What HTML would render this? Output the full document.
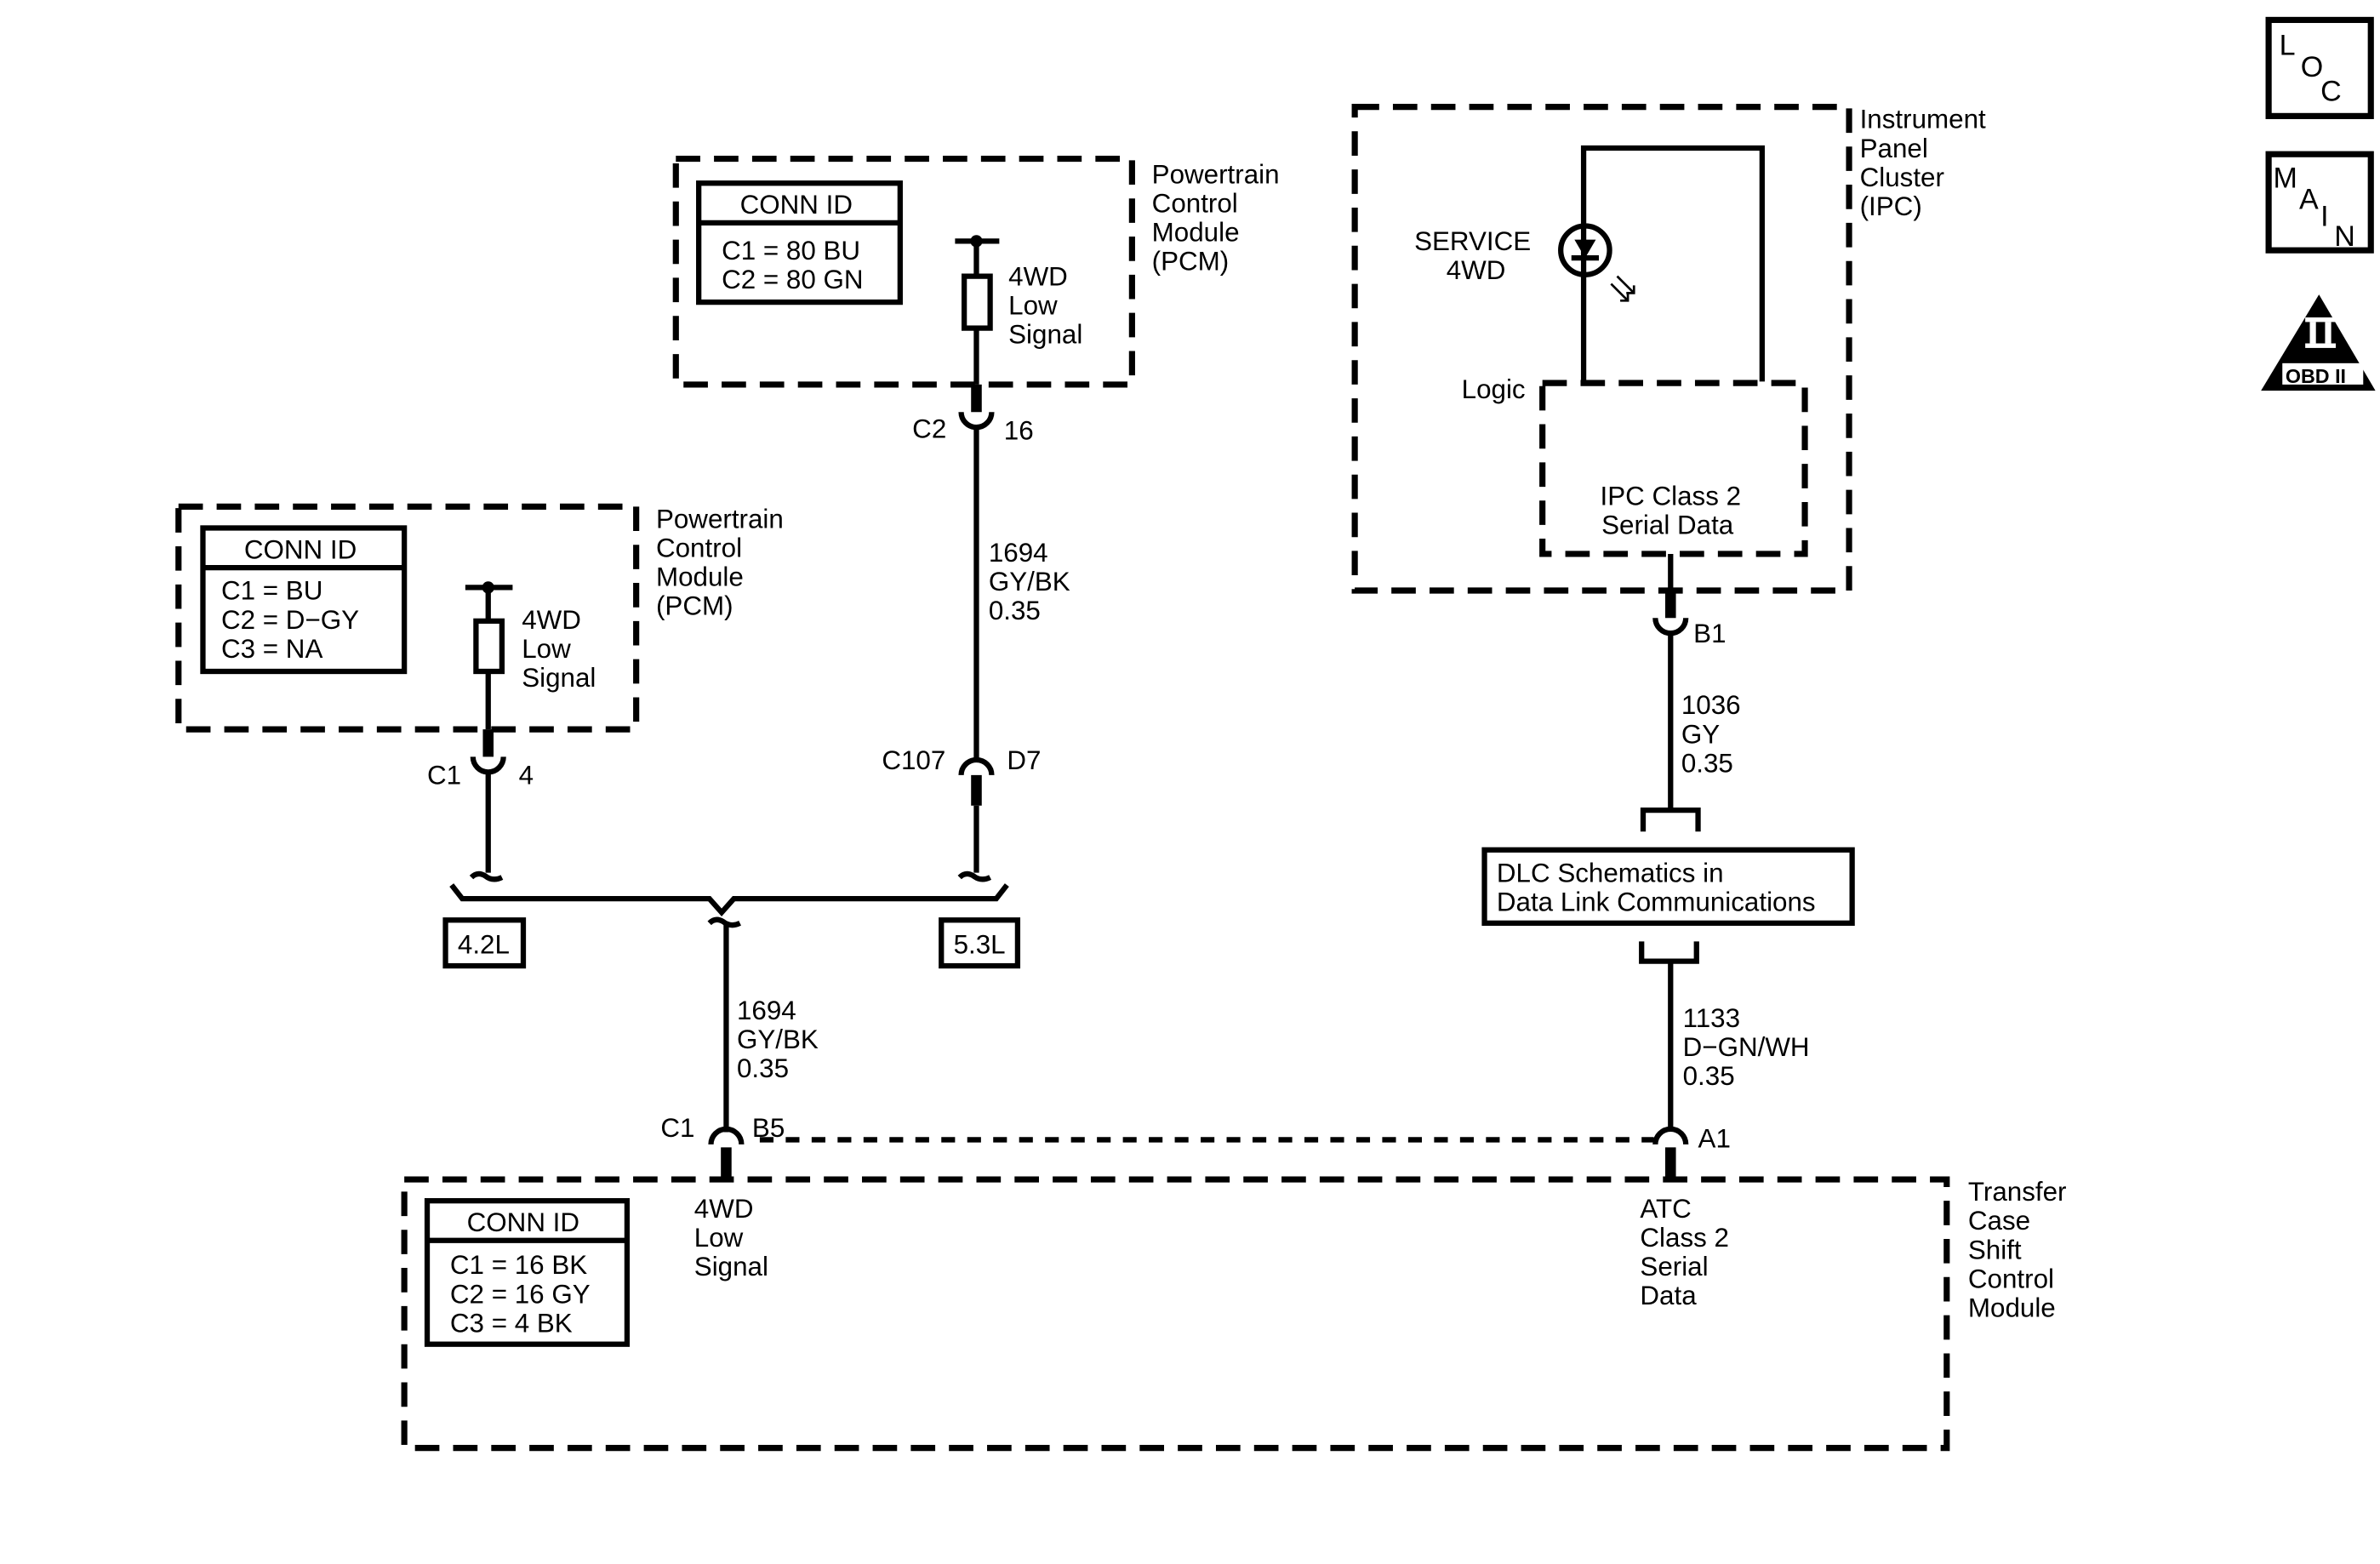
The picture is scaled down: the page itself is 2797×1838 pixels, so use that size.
<!DOCTYPE html>
<html><head><meta charset="utf-8"><style>
html,body{margin:0;padding:0;background:#fff;}
svg{display:block;}
text{font-family:"Liberation Sans",Arial,sans-serif;font-size:17.5px;fill:#000;}
</style></head><body>
<svg width="2797" height="1838" viewBox="0 0 1560 1025" xmlns="http://www.w3.org/2000/svg">
<g fill="none" stroke="#000" stroke-width="3.5">
<g stroke-dasharray="16,9" stroke-width="4">
<rect x="443" y="104" width="299" height="148"/>
<rect x="117" y="332" width="300" height="146"/>
<rect x="265" y="773" width="1011" height="176"/>
<rect x="888" y="70" width="324" height="317"/>
<rect x="1011" y="251" width="172" height="112"/>
</g>
<rect x="458" y="120" width="132" height="78"/><line x1="458" y1="146" x2="590" y2="146"/>
<rect x="133" y="346" width="132" height="94"/><line x1="133" y1="372" x2="265" y2="372"/>
<rect x="280" y="787" width="131" height="94"/><line x1="280" y1="813" x2="411" y2="813"/>
<line x1="626" y1="158" x2="655" y2="158"/>
<line x1="640" y1="158" x2="640" y2="180"/>
<rect x="632" y="181" width="17" height="34"/>
<line x1="640" y1="215" x2="640" y2="252"/>
<line x1="640" y1="252" x2="640" y2="270" stroke-width="7"/>
<path d="M630,270 A10,10 0 0 0 650,270"/>
<line x1="640" y1="280" x2="640" y2="498"/>
<path d="M630,508 A10,10 0 0 1 650,508"/>
<line x1="640" y1="508" x2="640" y2="528" stroke-width="7"/>
<line x1="640" y1="528" x2="640" y2="572"/>
<path d="M629,575 q4,-4 9,-1 q5,4 11,1"/>
<line x1="305" y1="385" x2="336" y2="385"/>
<line x1="320" y1="385" x2="320" y2="406"/>
<rect x="312" y="407" width="17" height="33"/>
<line x1="320" y1="440" x2="320" y2="478"/>
<line x1="320" y1="478" x2="320" y2="496" stroke-width="7"/>
<path d="M310,496 A10,10 0 0 0 330,496"/>
<line x1="320" y1="506" x2="320" y2="572"/>
<path d="M309,575 q4,-4 9,-1 q5,4 11,1"/>
<path d="M296,580 L303,589 L465,589 L473,598 L481,589 L653,589 L660,580"/>
<path d="M465,605 q4,-4 9,-1 q5,4 11,1"/>
<line x1="476" y1="604" x2="476" y2="742"/>
<rect x="292" y="603" width="51" height="30"/>
<rect x="617" y="603" width="50" height="30"/>
<path d="M466,750 A10,10 0 0 1 486,750"/>
<line x1="476" y1="752" x2="476" y2="771" stroke-width="7"/>
<line x1="498" y1="747" x2="1084" y2="747" stroke-dasharray="9,8"/>
<path d="M1038,250 L1038,97 L1155,97 L1155,250"/>
<circle cx="1039" cy="164" r="16"/>
<line x1="1030" y1="169" x2="1048" y2="169"/>
<line x1="1095" y1="363" x2="1095" y2="388"/>
<line x1="1095" y1="388" x2="1095" y2="405" stroke-width="7"/>
<path d="M1085,405 A10,10 0 0 0 1105,405"/>
<line x1="1095" y1="415" x2="1095" y2="531"/>
<path d="M1077,545 L1077,531 L1113,531 L1113,545"/>
<rect x="973" y="557" width="241" height="48"/>
<path d="M1076,617 L1076,630 L1112,630 L1112,617"/>
<line x1="1095" y1="630" x2="1095" y2="740"/>
<path d="M1085,750 A10,10 0 0 1 1105,750"/>
<line x1="1095" y1="752" x2="1095" y2="771" stroke-width="7"/>
<rect x="1487" y="13" width="67" height="63" stroke-width="4"/>
<rect x="1487" y="101" width="67" height="63" stroke-width="4"/>
</g>
<circle cx="640" cy="158" r="4"/>
<circle cx="320" cy="385" r="4"/>
<path d="M1032,157 L1046,157 L1039,169 Z"/>
<g stroke="#000" stroke-width="1.5" fill="none">
<line x1="1056" y1="186" x2="1067" y2="197"/><line x1="1060" y1="181" x2="1071" y2="192"/>
<path d="M1062,197 L1067,197 L1067,192 M1066,192 L1071,192 L1071,187"/>
</g>
<path d="M1520,193 L1557,256 L1482,256 Z"/>
<rect x="1496" y="238" width="53" height="14" fill="#fff"/>
<rect x="1511" y="208" width="20" height="3" fill="#fff"/>
<rect x="1511" y="225" width="20" height="3" fill="#fff"/>
<rect x="1514" y="211" width="4" height="14" fill="#fff"/>
<rect x="1524" y="211" width="4" height="14" fill="#fff"/>
<text x="1498" y="251" style="font-size:13px;font-weight:bold">OBD II</text>
<text x="1494" y="36" style="font-size:19px">L</text><text x="1508" y="50" style="font-size:19px">O</text><text x="1521" y="66" style="font-size:19px">C</text>
<text x="1490" y="123" style="font-size:19px">M</text><text x="1507" y="137" style="font-size:19px">A</text><text x="1521" y="148" style="font-size:19px">I</text><text x="1530" y="161" style="font-size:19px">N</text>
<text x="485" y="140">CONN ID</text>
<text x="473" y="170">C1 = 80 BU</text><text x="473" y="189">C2 = 80 GN</text>
<text x="755" y="120">Powertrain</text><text x="755" y="139">Control</text><text x="755" y="158">Module</text><text x="755" y="177">(PCM)</text>
<text x="661" y="187">4WD</text><text x="661" y="206">Low</text><text x="661" y="225">Signal</text>
<text x="598" y="287">C2</text><text x="658" y="288">16</text>
<text x="648" y="368">1694</text><text x="648" y="387">GY/BK</text><text x="648" y="406">0.35</text>
<text x="578" y="504">C107</text><text x="660" y="504">D7</text>
<text x="160" y="366">CONN ID</text>
<text x="145" y="393">C1 = BU</text><text x="145" y="412">C2 = D−GY</text><text x="145" y="431">C3 = NA</text>
<text x="430" y="346">Powertrain</text><text x="430" y="365">Control</text><text x="430" y="384">Module</text><text x="430" y="403">(PCM)</text>
<text x="342" y="412">4WD</text><text x="342" y="431">Low</text><text x="342" y="450">Signal</text>
<text x="280" y="514">C1</text><text x="340" y="514">4</text>
<text x="300" y="625">4.2L</text><text x="625" y="625">5.3L</text>
<text x="483" y="668">1694</text><text x="483" y="687">GY/BK</text><text x="483" y="706">0.35</text>
<text x="433" y="745">C1</text><text x="493" y="745">B5</text>
<text x="306" y="807">CONN ID</text>
<text x="295" y="835">C1 = 16 BK</text><text x="295" y="854">C2 = 16 GY</text><text x="295" y="873">C3 = 4 BK</text>
<text x="455" y="798">4WD</text><text x="455" y="817">Low</text><text x="455" y="836">Signal</text>
<text x="1075" y="798">ATC</text><text x="1075" y="817">Class 2</text><text x="1075" y="836">Serial</text><text x="1075" y="855">Data</text>
<text x="1290" y="787">Transfer</text><text x="1290" y="806">Case</text><text x="1290" y="825">Shift</text><text x="1290" y="844">Control</text><text x="1290" y="863">Module</text>
<text x="1219" y="84">Instrument</text><text x="1219" y="103">Panel</text><text x="1219" y="122">Cluster</text><text x="1219" y="141">(IPC)</text>
<text x="927" y="164">SERVICE</text><text x="948" y="183">4WD</text>
<text x="958" y="261">Logic</text>
<text x="1095" y="331" text-anchor="middle">IPC Class 2</text><text x="1093" y="350" text-anchor="middle">Serial Data</text>
<text x="1110" y="421">B1</text>
<text x="1102" y="468">1036</text><text x="1102" y="487">GY</text><text x="1102" y="506">0.35</text>
<text x="981" y="578">DLC Schematics in</text><text x="981" y="597">Data Link Communications</text>
<text x="1103" y="673">1133</text><text x="1103" y="692">D−GN/WH</text><text x="1103" y="711">0.35</text>
<text x="1113" y="752">A1</text>
</svg>
</body></html>
